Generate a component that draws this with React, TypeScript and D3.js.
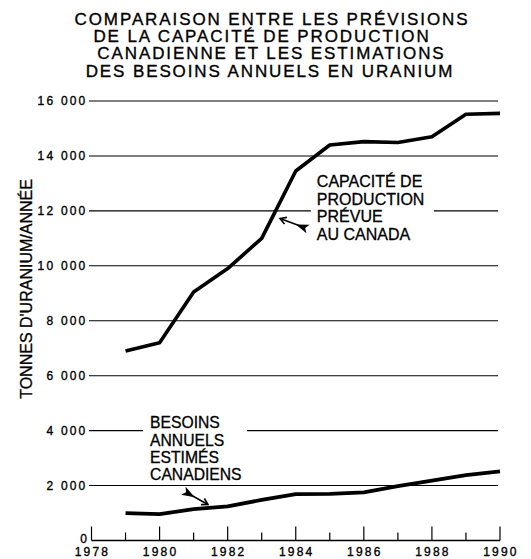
import React from "react";
import * as d3 from "d3";

const titleLines = [
  "COMPARAISON ENTRE LES PRÉVISIONS",
  "DE LA CAPACITÉ DE PRODUCTION",
  "CANADIENNE ET LES ESTIMATIONS",
  "DES BESOINS ANNUELS EN URANIUM",
];
const titleCenters = [272, 262, 271.5, 270];

const years = [1979, 1980, 1981, 1982, 1983, 1984, 1985, 1986, 1987, 1988, 1989, 1990];
const capacite = [6900, 7200, 9050, 9900, 11000, 13450, 14400, 14520, 14490, 14700, 15520, 15550];
const besoins = [1000, 960, 1140, 1240, 1480, 1690, 1700, 1750, 1980, 2180, 2380, 2520];

const yTicks = [0, 2000, 4000, 6000, 8000, 10000, 12000, 14000, 16000];
const xTicks = d3.range(1978, 1991);
const xLabels = [1978, 1980, 1982, 1984, 1986, 1988, 1990];

const capLabel = ["CAPACITÉ DE", "PRODUCTION", "PRÉVUE", "AU CANADA"];
const besLabel = ["BESOINS", "ANNUELS", "ESTIMÉS", "CANADIENS"];

// annotation anchors in data units [year, value]
const capArrow = { tip: [1983.54, 11720], tail: [1984.36, 11340] };
const besArrow = { tip: [1981.42, 1310], tail: [1980.7, 1810] };
const capText = [1984.62, 12880];
const besText = [1979.72, 4085];

const FONT = "'Liberation Sans', Arial, Helvetica, sans-serif";

function Arrow({ tip, tail }: { tip: [number, number]; tail: [number, number] }) {
  const dx = tail[0] - tip[0];
  const dy = tail[1] - tip[1];
  const len = Math.hypot(dx, dy);
  const ux = dx / len, uy = dy / len;
  const nx = -uy, ny = ux;
  const head = `M${tip[0] + ux * 6 + nx * 3.5},${tip[1] + uy * 6 + ny * 3.5} L${tip[0]},${tip[1]} L${tip[0] + ux * 6 - nx * 3.5},${tip[1] + uy * 6 - ny * 3.5}`;
  const fl = [
    [tail[0] - ux * 13, tail[1] - uy * 13],
    [tail[0] + nx * 4.5, tail[1] + ny * 4.5],
    [tail[0] - ux * 3, tail[1] - uy * 3],
    [tail[0] - nx * 4.5, tail[1] - ny * 4.5],
  ];
  return (
    <g>
      <line x1={tip[0]} y1={tip[1]} x2={tail[0] - ux * 4} y2={tail[1] - uy * 4} stroke="#000" strokeWidth={1.6} />
      <path d={head} fill="none" stroke="#000" strokeWidth={1.6} />
      <polygon points={fl.map((p) => p.join(",")).join(" ")} fill="#000" />
    </g>
  );
}

export default function App() {
  const W = 531, H = 559;
  const x = d3.scaleLinear().domain([1978, 1990]).range([91.5, 500]);
  const y = d3.scaleLinear().domain([0, 16000]).range([540.5, 101]);

  const line = d3
    .line<number>()
    .x((_, i) => x(years[i]))
    .y((d) => y(d))
    .curve(d3.curveLinear);

  const capTip: [number, number] = [x(capArrow.tip[0]), y(capArrow.tip[1])];
  const capTail: [number, number] = [x(capArrow.tail[0]), y(capArrow.tail[1])];
  const besTip: [number, number] = [x(besArrow.tip[0]), y(besArrow.tip[1])];
  const besTail: [number, number] = [x(besArrow.tail[0]), y(besArrow.tail[1])];

  const capX = x(capText[0]);
  const capY = y(capText[1]);
  const besX = x(besText[0]);
  const besY = y(besText[1]);

  return (
    <svg
      width={W}
      height={H}
      viewBox={`0 0 ${W} ${H}`}
      style={{ position: "absolute", left: 0, top: 0, background: "#fff" }}
      fontFamily={FONT}
    >
      <rect x={0} y={0} width={W} height={H} fill="#fff" />
      {/* title */}
      {titleLines.map((t, i) => (
        <text
          key={t}
          x={titleCenters[i]}
          y={25 + i * 17.2}
          textAnchor="middle"
          fontSize={17}
          letterSpacing={1.9}
          stroke="#000"
          strokeWidth={0.35}
          fill="#000"
        >
          {t}
        </text>
      ))}

      {/* gridlines */}
      {yTicks.filter((v) => v > 0).map((v) => (
        <line key={v} x1={89} x2={498} y1={y(v)} y2={y(v)} stroke="#000" strokeWidth={1.1} />
      ))}

      {/* y tick labels */}
      {yTicks.map((v) => (
        <text
          key={v}
          x={v === 0 ? 89 : 87.5}
          y={v === 0 ? y(v) + 2 : y(v) + 4.4}
          textAnchor="end"
          fontSize={12}
          letterSpacing={2.2}
          stroke="#000"
          strokeWidth={0.35}
          fill="#000"
        >
          {v === 0 ? "0" : d3.format(",")(v).replace(",", " ")}
        </text>
      ))}

      {/* y axis title */}
      <text
        transform={`translate(32.3, 289) rotate(-90)`}
        textAnchor="middle"
        fontSize={16}
        stroke="#000"
        strokeWidth={0.3}
        fill="#000"
      >
        TONNES D'URANIUM/ANNÉE
      </text>

      {/* x axis */}
      <line x1={x(1978)} x2={x(1990)} y1={y(0)} y2={y(0)} stroke="#000" strokeWidth={1.6} />
      {xTicks.map((yr) => (
        <line
          key={yr}
          x1={x(yr)}
          x2={x(yr)}
          y1={y(0)}
          y2={y(0) - (yr % 2 === 0 ? 14 : 8)}
          stroke="#000"
          strokeWidth={1.2}
        />
      ))}
      {xLabels.map((yr) => (
        <text
          key={yr}
          x={x(yr) + 1}
          y={556}
          textAnchor="middle"
          fontSize={12}
          letterSpacing={2.2}
          stroke="#000"
          strokeWidth={0.35}
          fill="#000"
        >
          {yr}
        </text>
      ))}

      {/* knockouts behind labels */}
      <rect x={capX - 6} y={capY - 16} width={123} height={60} fill="#fff" />
      <rect x={besX - 7} y={besY - 15} width={104} height={61} fill="#fff" />

      {/* labels */}
      {capLabel.map((t, i) => (
        <text key={t} x={capX} y={capY + i * 17.8} fontSize={16} fill="#000" stroke="#000" strokeWidth={0.3}>
          {t}
        </text>
      ))}
      {besLabel.map((t, i) => (
        <text key={t} x={besX} y={besY + i * 17.3} fontSize={15.7} fill="#000" stroke="#000" strokeWidth={0.3}>
          {t}
        </text>
      ))}

      {/* data lines */}
      <path d={line(capacite) || ""} fill="none" stroke="#000" strokeWidth={3.6} strokeLinejoin="round" strokeLinecap="butt" />
      <path d={line(besoins) || ""} fill="none" stroke="#000" strokeWidth={3.8} strokeLinejoin="round" strokeLinecap="butt" />

      <Arrow tip={capTip} tail={capTail} />
      <Arrow tip={besTip} tail={besTail} />
    </svg>
  );
}
